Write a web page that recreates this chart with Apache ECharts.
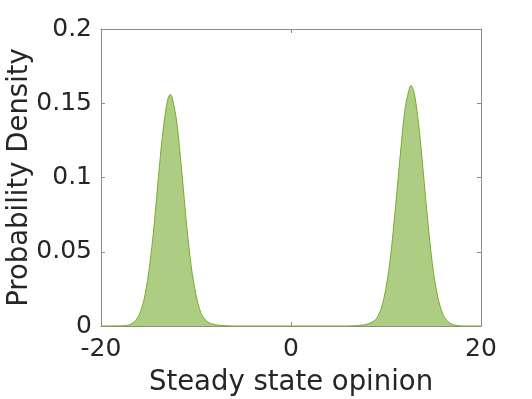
<!DOCTYPE html>
<html>
<head>
<meta charset="utf-8">
<script src="https://cdn.jsdelivr.net/npm/echarts@6/dist/echarts.min.js"></script>
<style>
  html, body { margin: 0; padding: 0; background: #fff; }
</style>
</head>
<body>
<div id="main" style="width: 532px;height:399px;"></div>
<script>
// opinion values (x) and density (y)
var opinion = [-20, -17.5, -17, -16.5, -16, -15.5, -15, -14.5, -14, -13.5, -13, -12.7, -12.5, -12, -11.5, -11, -10.5, -10, -9.5, -9, -8.5, -8, -7.5, -7, -6.5, -6,
  6, 6.5, 7, 7.5, 8, 8.5, 9, 9.5, 10, 10.5, 11, 11.5, 12, 12.5, 12.63, 13, 13.5, 14, 14.5, 15, 15.5, 16, 16.5, 17, 17.5, 18, 20];
var density = [0, 0.0002, 0.0009, 0.0027, 0.0072, 0.017, 0.035, 0.062, 0.097, 0.130, 0.152, 0.156, 0.154, 0.136, 0.104, 0.069, 0.040, 0.021, 0.009, 0.004, 0.0018, 0.0009, 0.0005, 0.0003, 0.0001, 0,
  0, 0.0001, 0.0003, 0.0006, 0.0012, 0.0025, 0.005, 0.0119, 0.0256, 0.048, 0.080, 0.115, 0.146, 0.161, 0.162, 0.156, 0.132, 0.098, 0.064, 0.036, 0.018, 0.0078, 0.003, 0.001, 0.0003, 0, 0];
var xTicks = [-20, 0, 20];
var yTicks = [0, 0.05, 0.1, 0.15, 0.2];

var pts = opinion.map(function (x, i) { return [x, density[i]]; });

var myChart = echarts.init(document.getElementById('main'));
var font = 'DejaVu Sans';
var boxColor = '#8c8c8c';
var txt = '#262626';

var option = {
  animation: false,
  grid: { left: 101, right: 51, top: 29, bottom: 73, outerBoundsMode: 'none', containLabel: false },
  xAxis: [
    {
      type: 'value', min: -20, max: 20, interval: 20,
      name: 'Steady state opinion', nameLocation: 'middle', nameGap: 43, nameMoveOverlap: false,
      nameTextStyle: { fontFamily: font, fontSize: 27.5, color: txt },
      axisLine: { show: true, onZero: false, lineStyle: { color: boxColor } },
      axisTick: { show: true, inside: true, length: 4, lineStyle: { color: boxColor } },
      axisLabel: { fontFamily: font, fontSize: 25, color: txt, margin: 11 },
      splitLine: { show: false }
    },
    {
      type: 'value', min: -20, max: 20, interval: 20, position: 'top',
      axisLine: { show: true, onZero: false, lineStyle: { color: boxColor } },
      axisTick: { show: true, inside: true, length: 4, lineStyle: { color: boxColor } },
      axisLabel: { show: false },
      splitLine: { show: false }
    }
  ],
  yAxis: [
    {
      type: 'value', min: 0, max: 0.2, interval: 0.05,
      name: 'Probability Density', nameLocation: 'middle', nameGap: 67, nameMoveOverlap: false,
      nameTextStyle: { fontFamily: font, fontSize: 27.5, color: txt, verticalAlign: 'bottom' },
      axisLine: { show: true, onZero: false, lineStyle: { color: boxColor } },
      axisTick: { show: true, inside: true, length: 4, lineStyle: { color: boxColor } },
      axisLabel: {
        fontFamily: font, fontSize: 25, color: txt, margin: 9,
        formatter: function (v) { return yTicks.indexOf(+v.toFixed(2)) >= 0 ? String(+v.toFixed(2)) : ''; }
      },
      splitLine: { show: false }
    },
    {
      type: 'value', min: 0, max: 0.2, interval: 0.05, position: 'right',
      axisLine: { show: true, onZero: false, lineStyle: { color: boxColor } },
      axisTick: { show: true, inside: true, length: 4, lineStyle: { color: boxColor } },
      axisLabel: { show: false },
      splitLine: { show: false }
    }
  ],
  series: [
    {
      type: 'line',
      data: pts,
      smooth: 0.3,
      symbol: 'none',
      lineStyle: { color: '#77ac30', width: 1 },
      areaStyle: { color: '#77ac30', opacity: 0.6 }
    }
  ]
};
myChart.setOption(option);
</script>
</body>
</html>
